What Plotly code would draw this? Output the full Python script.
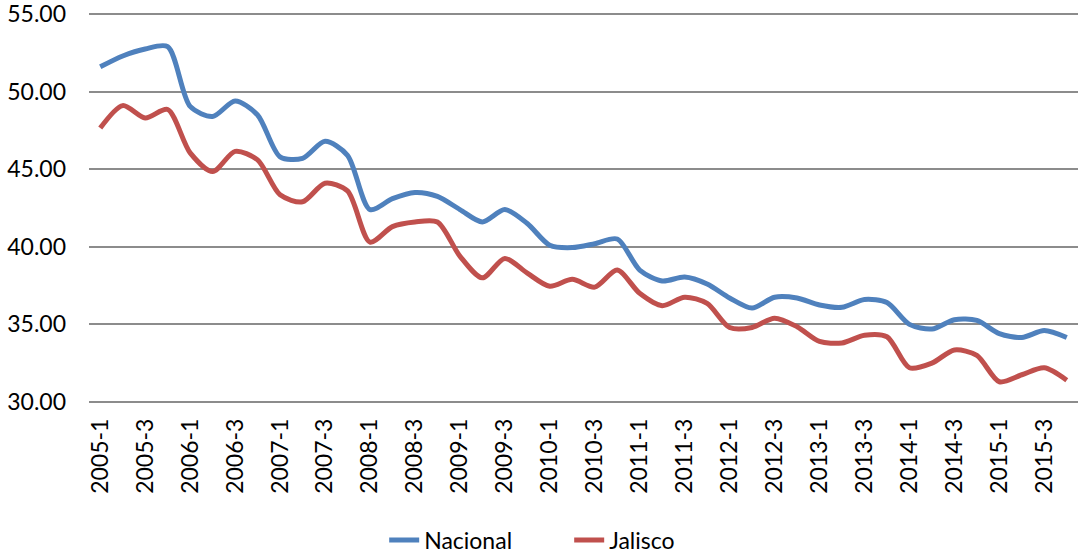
import plotly.graph_objects as go

# Trimestres 2005-1 a 2015-4
quarters = [f"{y}-{q}" for y in range(2005, 2016) for q in range(1, 5)]
tick_labels = [f"{y}-{q}" for y in range(2005, 2016) for q in (1, 3)]

nacional = [51.6, 52.3, 52.75, 52.9, 49.05, 48.4, 49.4, 48.5,
            45.8, 45.7, 46.8, 45.9, 42.4, 43.1, 43.5, 43.25,
            42.4, 41.6, 42.4, 41.5, 40.1, 39.95, 40.2, 40.5,
            38.5, 37.8, 38.05, 37.6, 36.7, 36.05, 36.75, 36.7,
            36.25, 36.1, 36.6, 36.4, 35.0, 34.7, 35.3, 35.25,
            34.4, 34.15, 34.6, 34.15]

jalisco = [47.65, 49.1, 48.3, 48.85, 46.05, 44.85, 46.15, 45.6,
           43.35, 42.9, 44.1, 43.6, 40.3, 41.3, 41.6, 41.6,
           39.4, 38.0, 39.25, 38.3, 37.45, 37.9, 37.4, 38.5,
           37.0, 36.2, 36.75, 36.35, 34.8, 34.8, 35.4, 34.85,
           33.9, 33.8, 34.3, 34.2, 32.2, 32.5, 33.35, 33.0,
           31.3, 31.75, 32.2, 31.4]

FONT = "Lato, 'Open Sans', sans-serif"

fig = go.Figure()
fig.add_trace(go.Scatter(
    x=quarters, y=nacional, name="Nacional", mode="lines",
    line=dict(color="#4F81BD", width=5, shape="spline", smoothing=0.8),
))
fig.add_trace(go.Scatter(
    x=quarters, y=jalisco, name="Jalisco", mode="lines",
    line=dict(color="#C0504D", width=5, shape="spline", smoothing=0.8),
))

fig.update_layout(
    width=1078, height=554,
    margin=dict(l=89, r=0, t=10.9, b=148.9, autoexpand=False),
    plot_bgcolor="white", paper_bgcolor="white",
    font=dict(family=FONT, size=23, color="black"),
    showlegend=True,
    legend=dict(orientation="h", xref="container", x=0.528, xanchor="center",
                yref="container", y=0.025, yanchor="middle",
                font=dict(size=23), entrywidth=140),
    xaxis=dict(
        type="category", categoryorder="array", categoryarray=quarters,
        tickmode="array", tickvals=tick_labels, ticktext=tick_labels,
        tickangle=-90, showgrid=False, zeroline=False, showline=False,
        ticks="", ticklabelstandoff=8, range=[-0.5, 43.5],
        automargin=False,
    ),
    yaxis=dict(
        range=[29.8, 55.2], tickvals=[30, 35, 40, 45, 50, 55],
        tickformat=".2f",
        showgrid=True, gridcolor="#8C8C8C", gridwidth=1.5,
        zeroline=False, showline=False, ticks="",
        ticklabelstandoff=22, automargin=False,
        ticklabeloverflow="allow",
    ),
)

# quitar el margen por defecto del body para que la figura quede en 0,0
fig.write_html("out.html", config={"displayModeBar": False},
               post_script="document.body.style.margin='0';")
